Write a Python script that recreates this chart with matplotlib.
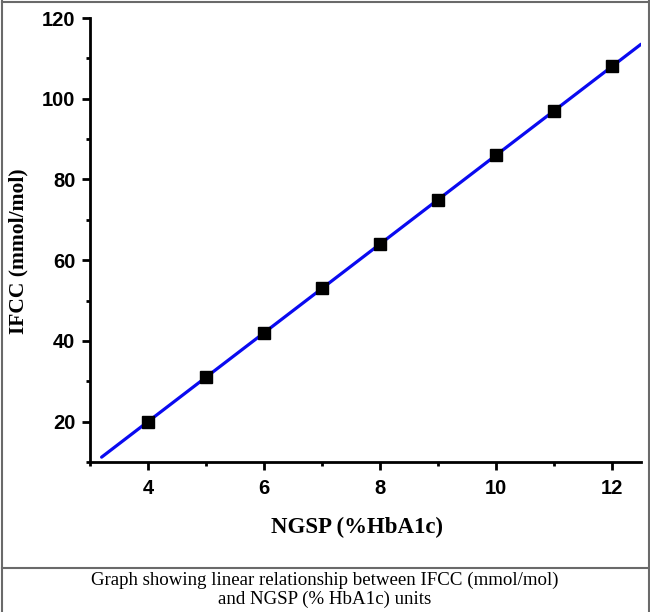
import numpy as np
import matplotlib
matplotlib.use("Agg")
import matplotlib.pyplot as plt
from matplotlib.ticker import MultipleLocator
from matplotlib.lines import Line2D

ngsp = [4, 5, 6, 7, 8, 9, 10, 11, 12]
ifcc = [20, 31, 42, 53, 64, 75, 86, 97, 108]
fit_range = [3.2, 12.5]
x_label = "NGSP (%HbA1c)"
y_label = "IFCC (mmol/mol)"
caption = "Graph showing linear relationship between IFCC (mmol/mol)\nand NGSP (% HbA1c) units"

W, H = 650, 612
fig = plt.figure(figsize=(W / 100, H / 100), dpi=100)

def fx(px):
    return px / W

def fy(py):
    return 1 - py / H

ax = fig.add_axes([fx(90), fy(462), fx(641) - fx(90), fy(18) - fy(462)])

slope, intercept = np.polyfit(ngsp, ifcc, 1)
xf = np.array(fit_range)
ax.plot(xf, slope * xf + intercept, color="#0a0af0", lw=2.3, zorder=2, solid_capstyle="round")
ax.plot(ngsp, ifcc, "s", color="black", ms=9, zorder=3)

ax.set_xlim(3, 12.5)
ax.set_ylim(10, 120)
ax.xaxis.set_major_locator(MultipleLocator(2))
ax.xaxis.set_minor_locator(MultipleLocator(1))
ax.yaxis.set_major_locator(MultipleLocator(20))
ax.yaxis.set_minor_locator(MultipleLocator(10))

for s in ["top", "right"]:
    ax.spines[s].set_visible(False)
for s in ["left", "bottom"]:
    ax.spines[s].set_linewidth(2)
    ax.spines[s].set_color("black")

ax.tick_params(which="major", direction="out", length=5.5, width=2, pad=5)
ax.tick_params(which="minor", direction="out", length=3, width=2)
ax.tick_params(axis="x", which="major", pad=7)
for lab in ax.get_xticklabels() + ax.get_yticklabels():
    lab.set_fontfamily("Liberation Sans")
    lab.set_fontweight("bold")
    lab.set_fontsize(14.5)

fig.text(fx(357), fy(527), x_label, ha="center", va="center",
         family="Liberation Serif", weight="bold", fontsize=16.5)
fig.text(fx(18), fy(251), y_label, ha="center", va="center", rotation=90,
         family="Liberation Serif", weight="bold", fontsize=15.5)

fig.text(0.5, fy(590), caption, ha="center", va="center",
         family="Liberation Serif", fontsize=13.6, linespacing=1.15)

border = "#6a6a6a"
fig.add_artist(Line2D([fx(2), fx(2)], [fy(1), fy(612)], color=border, lw=1.5, transform=fig.transFigure))
fig.add_artist(Line2D([fx(648.5), fx(648.5)], [fy(1), fy(612)], color=border, lw=1.5, transform=fig.transFigure))
fig.add_artist(Line2D([fx(2), fx(648.5)], [fy(1.5), fy(1.5)], color=border, lw=1.5, transform=fig.transFigure))
fig.add_artist(Line2D([fx(2), fx(648.5)], [fy(568), fy(568)], color=border, lw=1.5, transform=fig.transFigure))

fig.savefig("out.png", dpi=100)
